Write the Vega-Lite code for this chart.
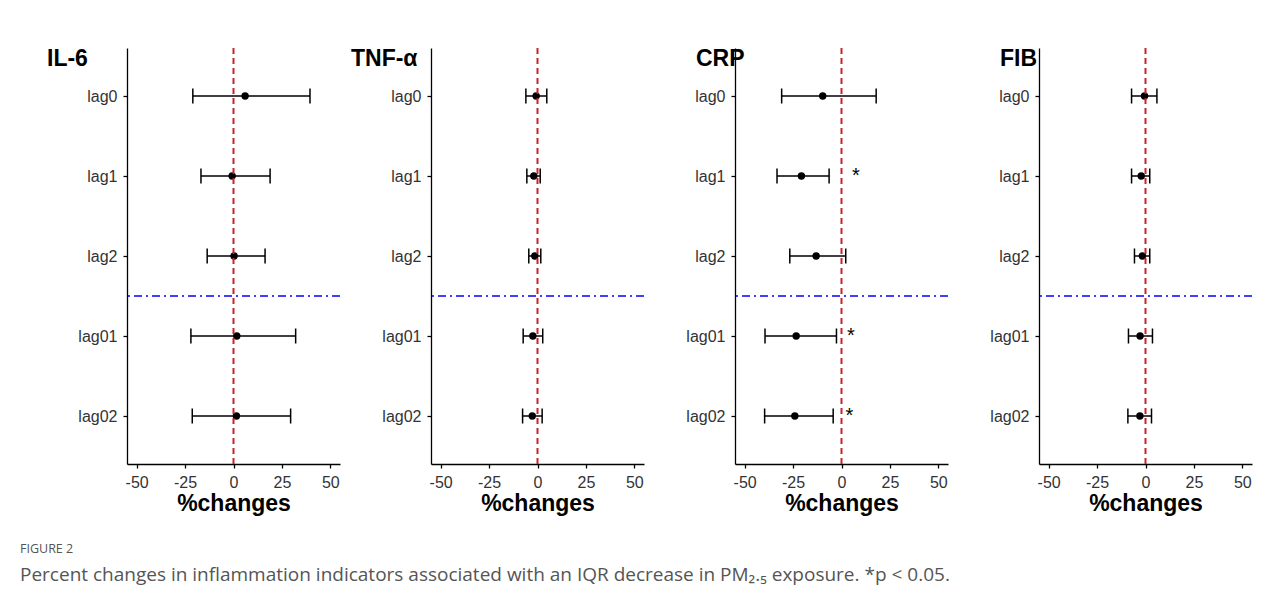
{
  "$schema": "https://vega.github.io/schema/vega-lite/v6.json",
  "background": "white",
  "padding": {"left": 20, "top": 47, "right": 10, "bottom": 10},
  "datasets": {
    "est": [
      {"ind": "IL-6", "lag": "lag0", "est": 6.0, "lo": -21.0, "hi": 39.5},
      {"ind": "IL-6", "lag": "lag1", "est": -0.7, "lo": -16.8, "hi": 18.9},
      {"ind": "IL-6", "lag": "lag2", "est": 0.3, "lo": -13.6, "hi": 16.3},
      {"ind": "IL-6", "lag": "lag01", "est": 1.7, "lo": -22.0, "hi": 32.1},
      {"ind": "IL-6", "lag": "lag02", "est": 1.5, "lo": -21.3, "hi": 29.5},
      {"ind": "TNF-α", "lag": "lag0", "est": -0.7, "lo": -6.0, "hi": 4.8},
      {"ind": "TNF-α", "lag": "lag1", "est": -1.9, "lo": -5.5, "hi": 1.4},
      {"ind": "TNF-α", "lag": "lag2", "est": -1.4, "lo": -4.5, "hi": 1.7},
      {"ind": "TNF-α", "lag": "lag01", "est": -2.4, "lo": -7.4, "hi": 2.7},
      {"ind": "TNF-α", "lag": "lag02", "est": -2.7, "lo": -7.7, "hi": 2.4},
      {"ind": "CRP", "lag": "lag0", "est": -9.7, "lo": -30.9, "hi": 17.9},
      {"ind": "CRP", "lag": "lag1", "est": -20.7, "lo": -33.3, "hi": -6.4},
      {"ind": "CRP", "lag": "lag2", "est": -13.1, "lo": -26.7, "hi": 2.2},
      {"ind": "CRP", "lag": "lag01", "est": -23.4, "lo": -39.5, "hi": -2.6},
      {"ind": "CRP", "lag": "lag02", "est": -24.1, "lo": -39.7, "hi": -4.3},
      {"ind": "FIB", "lag": "lag0", "est": -0.5, "lo": -7.2, "hi": 5.9},
      {"ind": "FIB", "lag": "lag1", "est": -2.2, "lo": -7.2, "hi": 2.2},
      {"ind": "FIB", "lag": "lag2", "est": -1.6, "lo": -5.7, "hi": 2.2},
      {"ind": "FIB", "lag": "lag01", "est": -2.8, "lo": -8.8, "hi": 3.6},
      {"ind": "FIB", "lag": "lag02", "est": -2.9, "lo": -9.1, "hi": 3.1}
    ],
    "stars": [
      {"ind": "CRP", "lag": "lag1", "pos": 7.4, "label": "*"},
      {"ind": "CRP", "lag": "lag01", "pos": 4.8, "label": "*"},
      {"ind": "CRP", "lag": "lag02", "pos": 4.1, "label": "*"}
    ],
    "one": [{}]
  },
  "title": {
    "text": "FIGURE 2",
    "subtitle": "Percent changes in inflammation indicators associated with an IQR decrease in PM₂.₅ exposure. *p < 0.05.",
    "orient": "bottom",
    "anchor": "start",
    "frame": "bounds",
    "dx": -27,
    "font": "Open Sans",
    "fontSize": 12.5,
    "fontWeight": "normal",
    "color": "#555555",
    "subtitleFont": "Open Sans",
    "subtitleFontSize": 19,
    "subtitleColor": "#555555",
    "subtitlePadding": 10,
    "offset": 28
  },
  "spacing": 91,
  "bounds": "flush",
  "hconcat": [
    {
      "width": 213, "height": 416,
      "title": {"text": "IL-6", "anchor": "start", "frame": "group", "dx": -80, "dy": 17, "offset": -25, "baseline": "alphabetic", "fontSize": 23, "fontWeight": "bold", "color": "black", "font": "Liberation Sans"},
      "layer": [
        {"data": {"name": "est"}, "transform": [{"filter": "datum.ind === 'IL-6'"}],
         "mark": {"type": "rule", "color": "black", "strokeWidth": 1.5},
         "encoding": {
           "x": {"field": "lo", "type": "quantitative", "scale": {"domain": [-55, 55], "nice": false, "zero": false}, "axis": {"values": [-50, -25, 0, 25, 50], "title": "%changes", "labelExpr": "replace(datum.label, '−', '-')"}},
           "x2": {"field": "hi"},
           "y": {"field": "lag", "type": "ordinal", "scale": {"type": "point", "padding": 0.6, "domain": ["lag0", "lag1", "lag2", "lag01", "lag02"]}, "axis": {"title": null}}
         }},
        {"data": {"name": "est"}, "transform": [{"filter": "datum.ind === 'IL-6'"}],
         "mark": {"type": "tick", "color": "black", "thickness": 1.5, "size": 15, "orient": "vertical", "opacity": 1},
         "encoding": {"x": {"field": "lo", "type": "quantitative"}, "y": {"field": "lag", "type": "ordinal"}}},
        {"data": {"name": "est"}, "transform": [{"filter": "datum.ind === 'IL-6'"}],
         "mark": {"type": "tick", "color": "black", "thickness": 1.5, "size": 15, "orient": "vertical", "opacity": 1},
         "encoding": {"x": {"field": "hi", "type": "quantitative"}, "y": {"field": "lag", "type": "ordinal"}}},
        {"data": {"name": "est"}, "transform": [{"filter": "datum.ind === 'IL-6'"}],
         "mark": {"type": "point", "filled": true, "color": "black", "size": 55, "opacity": 1},
         "encoding": {"x": {"field": "est", "type": "quantitative"}, "y": {"field": "lag", "type": "ordinal"}}},
        {"data": {"name": "one"},
         "mark": {"type": "rule", "color": "#C4262E", "strokeWidth": 2, "strokeDash": [6, 4]},
         "encoding": {"x": {"datum": 0}}},
        {"data": {"name": "one"},
         "mark": {"type": "rule", "color": "#0000FF", "strokeWidth": 1.5, "strokeDash": [8, 4, 2, 4], "yOffset": 40},
         "encoding": {"y": {"datum": "lag2"}}}
      ]
    },
    {
      "width": 213, "height": 416,
      "title": {"text": "TNF-α", "anchor": "start", "frame": "group", "dx": -80, "dy": 17, "offset": -25, "baseline": "alphabetic", "fontSize": 23, "fontWeight": "bold", "color": "black", "font": "Liberation Sans"},
      "layer": [
        {"data": {"name": "est"}, "transform": [{"filter": "datum.ind === 'TNF-α'"}],
         "mark": {"type": "rule", "color": "black", "strokeWidth": 1.5},
         "encoding": {
           "x": {"field": "lo", "type": "quantitative", "scale": {"domain": [-55, 55], "nice": false, "zero": false}, "axis": {"values": [-50, -25, 0, 25, 50], "title": "%changes", "labelExpr": "replace(datum.label, '−', '-')"}},
           "x2": {"field": "hi"},
           "y": {"field": "lag", "type": "ordinal", "scale": {"type": "point", "padding": 0.6, "domain": ["lag0", "lag1", "lag2", "lag01", "lag02"]}, "axis": {"title": null}}
         }},
        {"data": {"name": "est"}, "transform": [{"filter": "datum.ind === 'TNF-α'"}],
         "mark": {"type": "tick", "color": "black", "thickness": 1.5, "size": 15, "orient": "vertical", "opacity": 1},
         "encoding": {"x": {"field": "lo", "type": "quantitative"}, "y": {"field": "lag", "type": "ordinal"}}},
        {"data": {"name": "est"}, "transform": [{"filter": "datum.ind === 'TNF-α'"}],
         "mark": {"type": "tick", "color": "black", "thickness": 1.5, "size": 15, "orient": "vertical", "opacity": 1},
         "encoding": {"x": {"field": "hi", "type": "quantitative"}, "y": {"field": "lag", "type": "ordinal"}}},
        {"data": {"name": "est"}, "transform": [{"filter": "datum.ind === 'TNF-α'"}],
         "mark": {"type": "point", "filled": true, "color": "black", "size": 55, "opacity": 1},
         "encoding": {"x": {"field": "est", "type": "quantitative"}, "y": {"field": "lag", "type": "ordinal"}}},
        {"data": {"name": "one"},
         "mark": {"type": "rule", "color": "#C4262E", "strokeWidth": 2, "strokeDash": [6, 4]},
         "encoding": {"x": {"datum": 0}}},
        {"data": {"name": "one"},
         "mark": {"type": "rule", "color": "#0000FF", "strokeWidth": 1.5, "strokeDash": [8, 4, 2, 4], "yOffset": 40},
         "encoding": {"y": {"datum": "lag2"}}}
      ]
    },
    {
      "width": 213, "height": 416,
      "title": {"text": "CRP", "anchor": "start", "frame": "group", "dx": -39, "dy": 17, "offset": -25, "baseline": "alphabetic", "fontSize": 23, "fontWeight": "bold", "color": "black", "font": "Liberation Sans"},
      "layer": [
        {"data": {"name": "est"}, "transform": [{"filter": "datum.ind === 'CRP'"}],
         "mark": {"type": "rule", "color": "black", "strokeWidth": 1.5},
         "encoding": {
           "x": {"field": "lo", "type": "quantitative", "scale": {"domain": [-55, 55], "nice": false, "zero": false}, "axis": {"values": [-50, -25, 0, 25, 50], "title": "%changes", "labelExpr": "replace(datum.label, '−', '-')"}},
           "x2": {"field": "hi"},
           "y": {"field": "lag", "type": "ordinal", "scale": {"type": "point", "padding": 0.6, "domain": ["lag0", "lag1", "lag2", "lag01", "lag02"]}, "axis": {"title": null}}
         }},
        {"data": {"name": "est"}, "transform": [{"filter": "datum.ind === 'CRP'"}],
         "mark": {"type": "tick", "color": "black", "thickness": 1.5, "size": 15, "orient": "vertical", "opacity": 1},
         "encoding": {"x": {"field": "lo", "type": "quantitative"}, "y": {"field": "lag", "type": "ordinal"}}},
        {"data": {"name": "est"}, "transform": [{"filter": "datum.ind === 'CRP'"}],
         "mark": {"type": "tick", "color": "black", "thickness": 1.5, "size": 15, "orient": "vertical", "opacity": 1},
         "encoding": {"x": {"field": "hi", "type": "quantitative"}, "y": {"field": "lag", "type": "ordinal"}}},
        {"data": {"name": "est"}, "transform": [{"filter": "datum.ind === 'CRP'"}],
         "mark": {"type": "point", "filled": true, "color": "black", "size": 55, "opacity": 1},
         "encoding": {"x": {"field": "est", "type": "quantitative"}, "y": {"field": "lag", "type": "ordinal"}}},
        {"data": {"name": "one"},
         "mark": {"type": "rule", "color": "#C4262E", "strokeWidth": 2, "strokeDash": [6, 4]},
         "encoding": {"x": {"datum": 0}}},
        {"data": {"name": "one"},
         "mark": {"type": "rule", "color": "#0000FF", "strokeWidth": 1.5, "strokeDash": [8, 4, 2, 4], "yOffset": 40},
         "encoding": {"y": {"datum": "lag2"}}},
        {"data": {"name": "stars"},
         "mark": {"type": "text", "fontSize": 20, "font": "Liberation Sans", "color": "black", "baseline": "middle", "align": "center"},
         "encoding": {"x": {"field": "pos", "type": "quantitative"}, "y": {"field": "lag", "type": "ordinal"}, "text": {"field": "label"}}}
      ]
    },
    {
      "width": 213, "height": 416,
      "title": {"text": "FIB", "anchor": "start", "frame": "group", "dx": -39, "dy": 17, "offset": -25, "baseline": "alphabetic", "fontSize": 23, "fontWeight": "bold", "color": "black", "font": "Liberation Sans"},
      "layer": [
        {"data": {"name": "est"}, "transform": [{"filter": "datum.ind === 'FIB'"}],
         "mark": {"type": "rule", "color": "black", "strokeWidth": 1.5},
         "encoding": {
           "x": {"field": "lo", "type": "quantitative", "scale": {"domain": [-55, 55], "nice": false, "zero": false}, "axis": {"values": [-50, -25, 0, 25, 50], "title": "%changes", "labelExpr": "replace(datum.label, '−', '-')"}},
           "x2": {"field": "hi"},
           "y": {"field": "lag", "type": "ordinal", "scale": {"type": "point", "padding": 0.6, "domain": ["lag0", "lag1", "lag2", "lag01", "lag02"]}, "axis": {"title": null}}
         }},
        {"data": {"name": "est"}, "transform": [{"filter": "datum.ind === 'FIB'"}],
         "mark": {"type": "tick", "color": "black", "thickness": 1.5, "size": 15, "orient": "vertical", "opacity": 1},
         "encoding": {"x": {"field": "lo", "type": "quantitative"}, "y": {"field": "lag", "type": "ordinal"}}},
        {"data": {"name": "est"}, "transform": [{"filter": "datum.ind === 'FIB'"}],
         "mark": {"type": "tick", "color": "black", "thickness": 1.5, "size": 15, "orient": "vertical", "opacity": 1},
         "encoding": {"x": {"field": "hi", "type": "quantitative"}, "y": {"field": "lag", "type": "ordinal"}}},
        {"data": {"name": "est"}, "transform": [{"filter": "datum.ind === 'FIB'"}],
         "mark": {"type": "point", "filled": true, "color": "black", "size": 55, "opacity": 1},
         "encoding": {"x": {"field": "est", "type": "quantitative"}, "y": {"field": "lag", "type": "ordinal"}}},
        {"data": {"name": "one"},
         "mark": {"type": "rule", "color": "#C4262E", "strokeWidth": 2, "strokeDash": [6, 4]},
         "encoding": {"x": {"datum": 0}}},
        {"data": {"name": "one"},
         "mark": {"type": "rule", "color": "#0000FF", "strokeWidth": 1.5, "strokeDash": [8, 4, 2, 4], "yOffset": 40},
         "encoding": {"y": {"datum": "lag2"}}}
      ]
    }
  ],
  "config": {
    "view": {"stroke": null},
    "font": "Liberation Sans",
    "axis": {
      "grid": false,
      "domainColor": "black",
      "domainWidth": 1.3,
      "tickColor": "black",
      "tickWidth": 1.3,
      "tickSize": 4,
      "labelFontSize": 16,
      "labelColor": "#333333",
      "labelFont": "Liberation Sans"
    },
    "axisX": {"titleFontSize": 23, "titleFontWeight": "bold", "titleColor": "black", "titleFont": "Liberation Sans", "labelPadding": 6, "titlePadding": 2},
    "axisY": {"labelPadding": 6}
  }
}
